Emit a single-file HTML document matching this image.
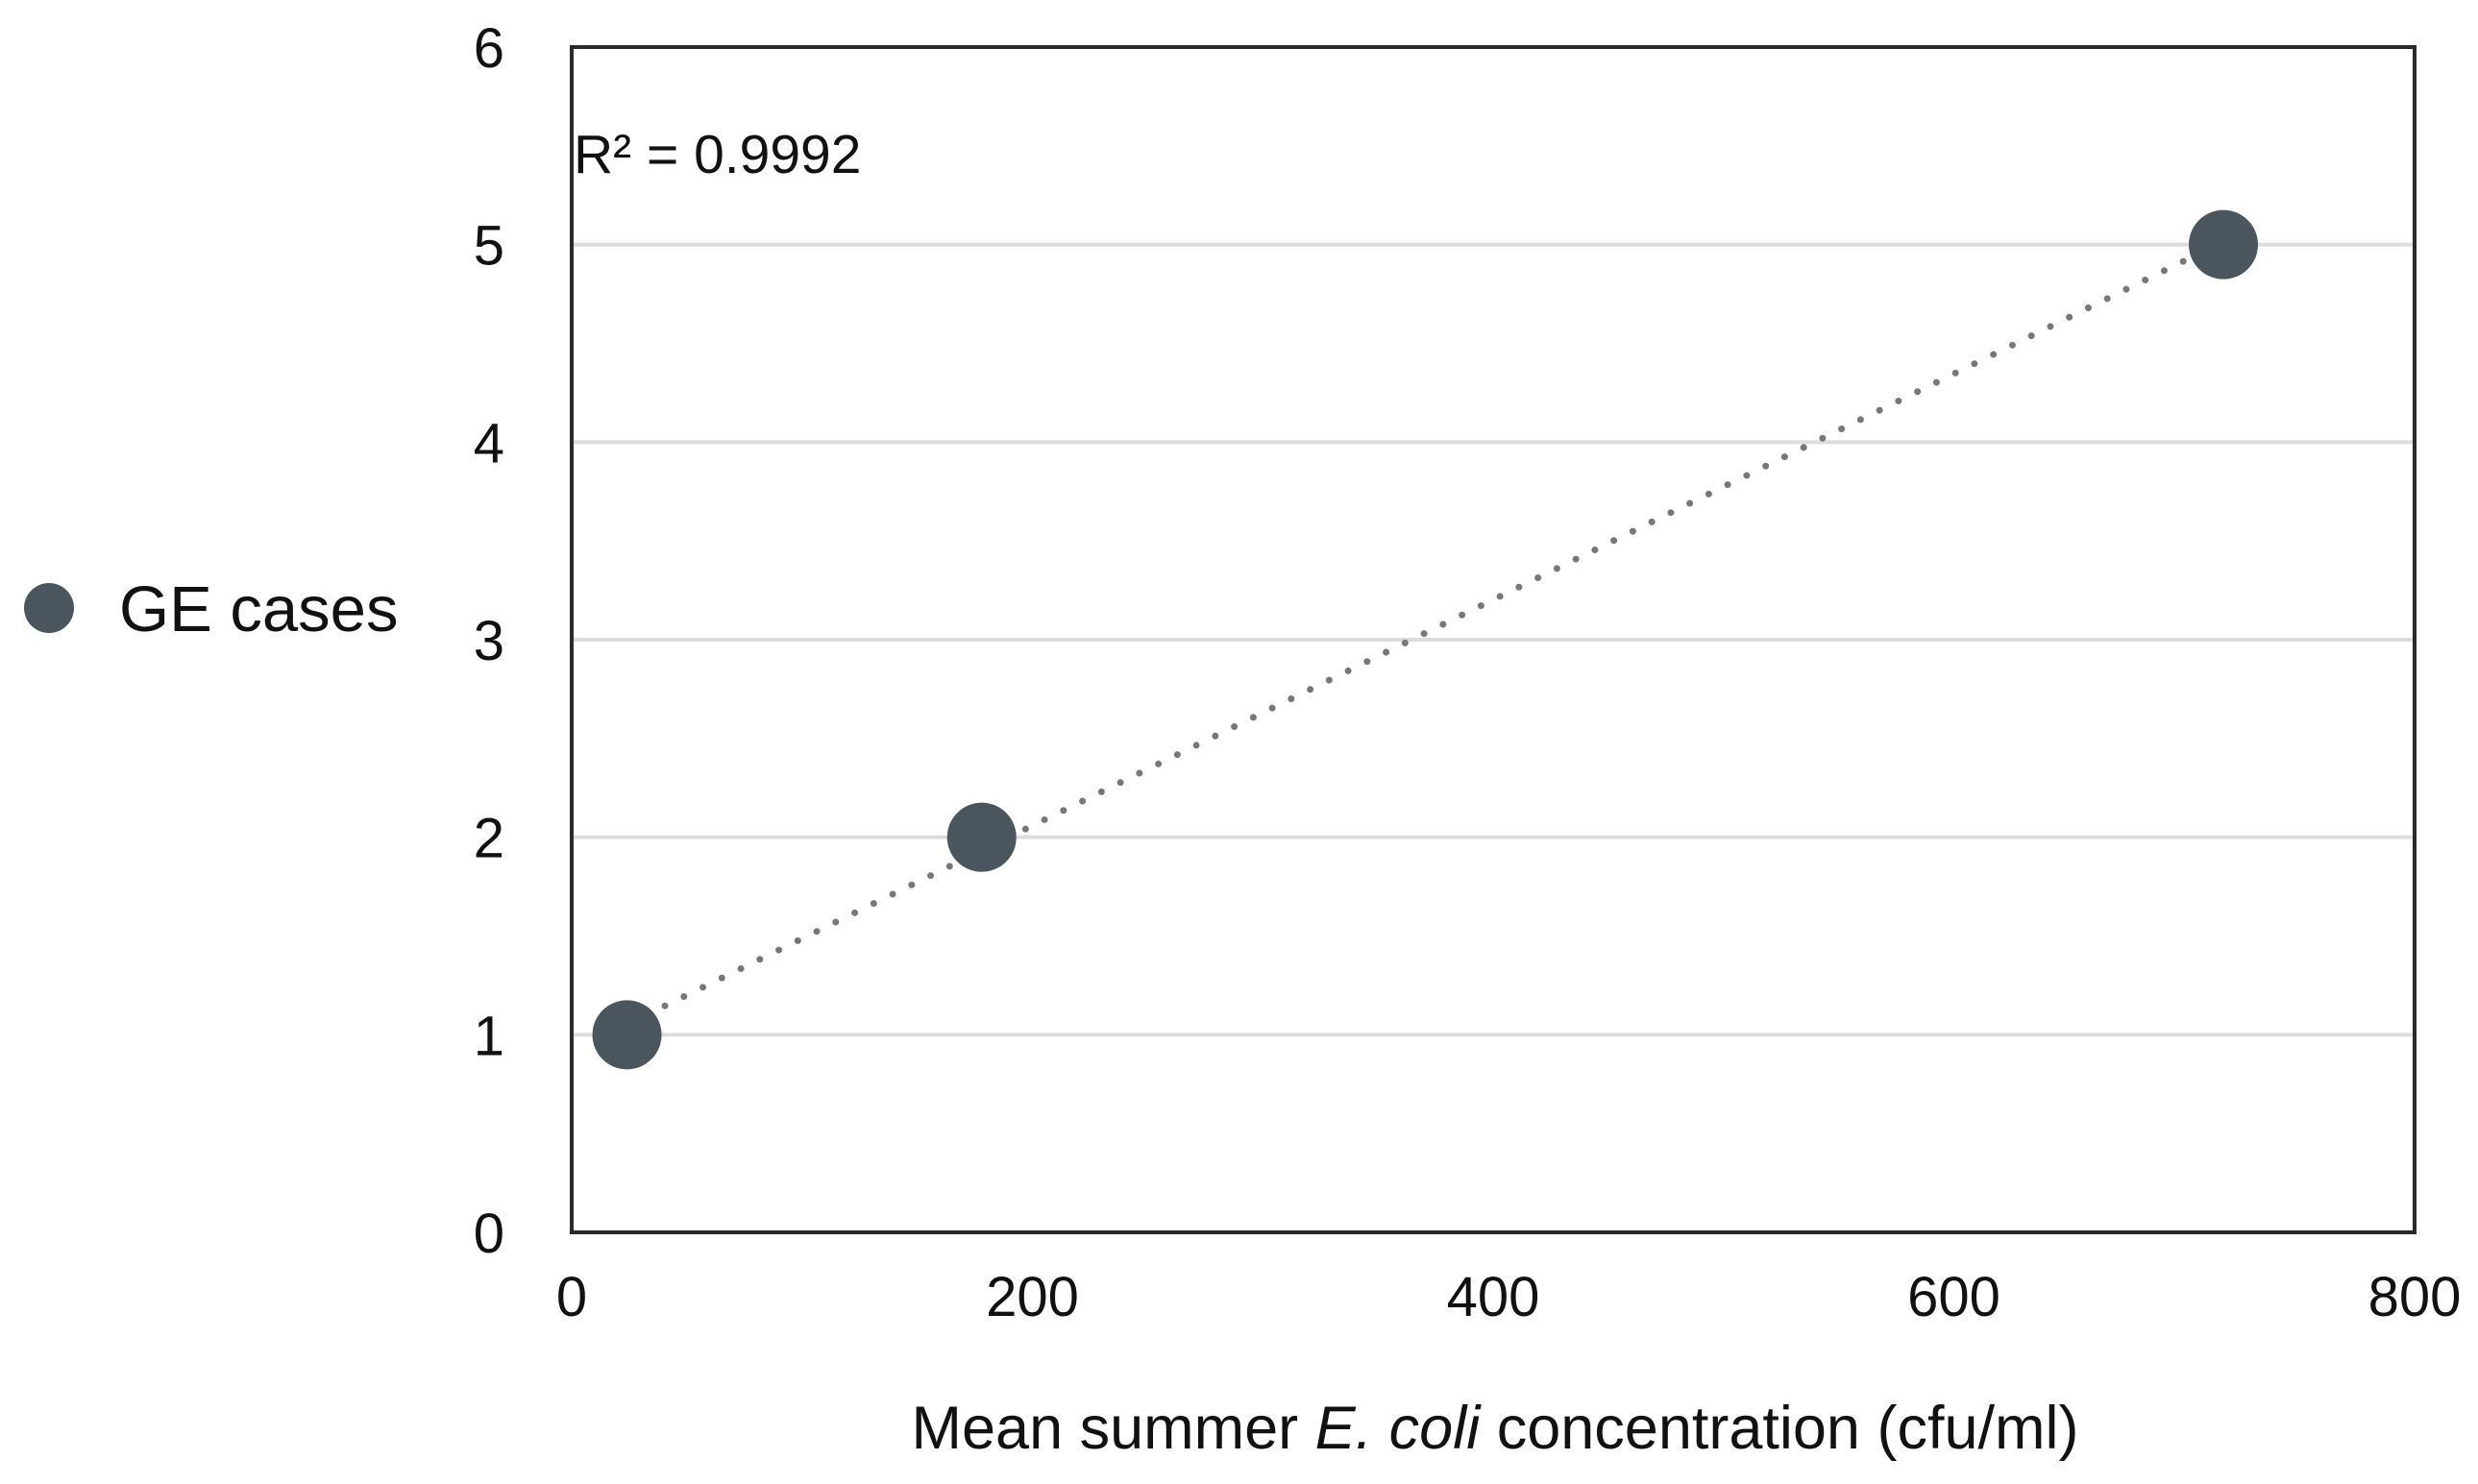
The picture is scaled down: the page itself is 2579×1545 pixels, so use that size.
<!DOCTYPE html>
<html><head><meta charset="utf-8"><style>
html,body{margin:0;padding:0;background:#fff;}
svg{display:block;font-family:"Liberation Sans",Arial,sans-serif;}
</style></head><body>
<svg id="chart" width="2579" height="1545" viewBox="0 0 2579 1545">
<g id="grid"></g>
<g id="trend"></g>
<g id="pts"></g>
<rect x="595" y="49" width="1918" height="1234" fill="none" stroke="#2a2a2a" stroke-width="4"/>
<g id="yt"></g>
<g id="xt"></g>
<text x="597" y="180" font-size="57" fill="#111">R² = 0.9992</text>
<text x="1556" y="1508" font-size="63" text-anchor="middle" fill="#111">Mean summer <tspan font-style="italic">E. coli</tspan> concentration (cfu/ml)</text>
<g>
<circle cx="51" cy="633" r="26" fill="#4a555e"/>
<text x="124" y="657" font-size="67" fill="#111">GE cases</text>
</g>
</svg>
<script>
const xValues=[24,178,717];
const yValues=[1,2,5];
const yTicks=[0,1,2,3,4,5,6];
const xTicks=[0,200,400,600,800];
const NS="http://www.w3.org/2000/svg";
const L=595,R=2513,T=49,B=1283;
const xs=v=>L+(v-0)/(800-0)*(R-L);
const ys=v=>B-(v-0)/(6-0)*(B-T);
function mk(tag,attrs,parent){const e=document.createElementNS(NS,tag);for(const k in attrs)e.setAttribute(k,attrs[k]);parent.appendChild(e);return e;}
const grid=document.getElementById('grid'),yt=document.getElementById('yt'),xt=document.getElementById('xt'),tr=document.getElementById('trend'),pts=document.getElementById('pts');
yTicks.forEach(v=>{
  if(v>0&&v<6){const g=mk('line',{x1:L,x2:R,y1:ys(v),y2:ys(v),stroke:'#dcdcdc','stroke-width':4},grid);
  
  }
  const t=mk('text',{x:525,y:ys(v)+21,'font-size':58,'text-anchor':'end',fill:'#111'},yt);t.textContent=v;
  
  
});
xTicks.forEach(v=>{
  const t=mk('text',{x:xs(v),y:1370,'font-size':58,'text-anchor':'middle',fill:'#111'},xt);t.textContent=v;
  
  
});
const n=xValues.length;const mx=xValues.reduce((a,b)=>a+b)/n,my=yValues.reduce((a,b)=>a+b)/n;
let sxy=0,sxx=0;for(let i=0;i<n;i++){sxy+=(xValues[i]-mx)*(yValues[i]-my);sxx+=(xValues[i]-mx)**2;}
const slope=sxy/sxx,icp=my-slope*mx;
const x0=Math.min(...xValues),x1=Math.max(...xValues);
const ln=mk('line',{x1:xs(x0),y1:ys(icp+slope*x0),x2:xs(x1),y2:ys(icp+slope*x1),stroke:'#777','stroke-width':7,'stroke-linecap':'round','stroke-dasharray':'0 22'},tr);


xValues.forEach((x,i)=>{
  const c=mk('circle',{cx:xs(x),cy:ys(yValues[i]),r:36,fill:'#4a555e'},pts);
  
  
});
</script>
</body></html>
